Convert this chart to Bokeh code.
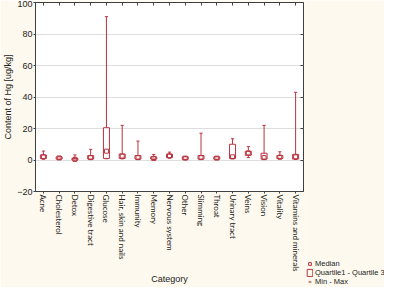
import math
from bokeh.plotting import figure
from bokeh.layouts import row
from bokeh.models import (ColumnDataSource, FactorRange, Range1d, LinearAxis,
                          CategoricalAxis, Legend, LegendItem, FixedTicker)
from bokeh.transform import dodge
from bokeh.embed import file_html
from bokeh.resources import INLINE

categories = ["Acne", "Cholesterol", "Detox", "Digestive tract", "Glucose",
              "Hair, skin and nails", "Immunity", "Memory", "Nervous system",
              "Other", "Slimming", "Throat", "Urinary tract", "Veins", "Vision",
              "Vitality", "Vitamins and minerals"]
mins    = [0.5, 0.4, 0.0, 0.4, 0.8, 0.7, 0.4, 0.3, 1.2, 0.2, 0.4, 0.3, 0.8, 1.5, 0.4, 0.7, 0.4]
q1      = [1.0, 0.6, 0.0, 0.6, 1.0, 1.0, 0.6, 0.6, 1.5, 0.4, 0.6, 0.5, 1.0, 3.0, 0.6, 1.0, 0.6]
medians = [2.0, 1.3, 0.4, 1.5, 5.6, 2.5, 1.5, 1.0, 2.6, 1.2, 1.5, 1.2, 2.0, 4.5, 1.5, 1.8, 2.0]
q3      = [3.2, 2.0, 1.0, 2.8, 20.5, 3.8, 2.8, 2.0, 3.7, 2.0, 2.8, 2.0, 10.0, 5.5, 4.3, 2.8, 3.6]
maxs    = [5.7, 2.0, 3.2, 6.8, 91.0, 22.0, 12.0, 3.5, 5.0, 2.0, 17.0, 2.0, 13.5, 8.5, 22.0, 5.2, 43.0]
y_ticks = [-20, 0, 20, 40, 60, 80, 100]
legend_labels = ["Median", "Quartile1 - Quartile 3", "Min - Max"]

RED = "#b8333f"
BG = "#fdf9ee"
AX = "#404040"
TXT = "#222222"

src = ColumnDataSource(dict(cat=categories, lo=mins, q1=q1, med=medians, q3=q3, hi=maxs))

p = figure(x_range=FactorRange(*categories), y_range=Range1d(-20, 100),
           width=305, height=287, output_backend="svg", toolbar_location=None,
           min_border_left=0, min_border_right=2, min_border_top=2, min_border_bottom=0)
p.frame_align = False
p.background_fill_color = "white"
p.border_fill_color = BG
p.outline_line_color = AX
p.outline_line_width = 1

# whiskers
p.segment(x0="cat", x1="cat", y0="q3", y1="hi", source=src, line_color=RED, line_width=1)
p.segment(x0="cat", x1="cat", y0="lo", y1="q1", source=src, line_color=RED, line_width=1)
p.segment(x0=dodge("cat", -0.1, range=p.x_range), x1=dodge("cat", 0.1, range=p.x_range),
          y0="hi", y1="hi", source=src, line_color=RED, line_width=1)
p.segment(x0=dodge("cat", -0.1, range=p.x_range), x1=dodge("cat", 0.1, range=p.x_range),
          y0="lo", y1="lo", source=src, line_color=RED, line_width=1)
# boxes
p.vbar(x="cat", width=0.38, bottom="q1", top="q3", source=src,
       fill_color="white", line_color=RED, line_width=1)
# medians
p.scatter(x="cat", y="med", source=src, marker="square", size=4,
          fill_color=None, line_color=RED, line_width=1)

# axes styling
for ax in (p.xaxis[0], p.yaxis[0]):
    ax.axis_line_color = AX
    ax.major_tick_line_color = AX
    ax.minor_tick_line_color = None
    ax.axis_label_text_font = "Liberation Sans"
    ax.axis_label_text_font_style = "normal"
    ax.axis_label_text_font_size = "9px"
    ax.axis_label_text_color = TXT

p.yaxis.ticker = FixedTicker(ticks=y_ticks)
p.yaxis.axis_label = "Content of Hg [ug/kg]"
p.yaxis.major_label_text_font = "Liberation Sans"
p.yaxis.major_label_text_font_size = "9px"
p.yaxis.major_label_text_color = TXT
p.yaxis.major_tick_out = 2
p.yaxis.major_tick_in = 0
p.yaxis.major_label_standoff = 1
p.yaxis.axis_label_standoff = 1

p.xaxis.axis_label = "Category"
p.xaxis.major_label_orientation = "vertical"
p.xaxis.major_label_text_font = "Lato"
p.xaxis.major_label_text_font_size = "8px"
p.xaxis.major_label_text_color = TXT
p.xaxis.major_tick_out = 2
p.xaxis.major_tick_in = 0
p.xaxis.major_label_standoff = 1
p.xaxis.axis_label_standoff = 0

# mirrored axes (ticks only)
rax = LinearAxis(ticker=FixedTicker(ticks=y_ticks), major_tick_in=3, major_tick_out=0,
                 minor_tick_line_color=None, axis_line_color=None,
                 major_tick_line_color=AX, major_label_text_color=None,
                 major_label_text_font_size="1px", major_label_standoff=0)
p.add_layout(rax, "right")
tax = CategoricalAxis(major_tick_in=3, major_tick_out=0, axis_line_color=None,
                      major_tick_line_color=AX, major_label_text_color=None,
                      major_label_text_font_size="1px", major_label_standoff=0)
p.add_layout(tax, "above")

p.xgrid.grid_line_color = None
p.ygrid.grid_line_color = "#dedede"
p.ygrid.ticker = FixedTicker(ticks=y_ticks)

# legend panel
q = figure(width=79, height=287, output_backend="svg", toolbar_location=None,
           x_range=Range1d(0, 1), y_range=Range1d(0, 1),
           min_border_left=0, min_border_right=0, min_border_top=0, min_border_bottom=0)
q.frame_align = False
q.axis.visible = False
q.grid.grid_line_color = None
q.outline_line_color = None
q.background_fill_color = BG
q.border_fill_color = BG
# legend keys only: single points placed outside the visible range
r_med = q.scatter(x=[-5], y=[-5], marker="square", size=4, fill_color=None,
                  line_color=RED, line_width=1)
r_box = q.vbar(x=[-5], top=[-4], bottom=[-5], width=0.5, fill_color=None,
               line_color=RED, line_width=1)
r_mm = q.scatter(x=[-5], y=[-5], marker="dash", angle=math.pi / 2, size=10,
                 line_color=RED, line_width=1.2)
legend = Legend(items=[LegendItem(label=legend_labels[0], renderers=[r_med]),
                       LegendItem(label=legend_labels[1], renderers=[r_box]),
                       LegendItem(label=legend_labels[2], renderers=[r_mm])],
                location="bottom_left", border_line_color=None, background_fill_alpha=0,
                label_text_font="Liberation Sans", label_text_font_size="7.5px",
                label_text_color=TXT,
                glyph_width=7, glyph_height=9, label_height=9, spacing=0,
                padding=0, margin=1, label_standoff=2)
q.add_layout(legend)

layout = row(p, q, spacing=0)
open("out.html", "w").write(file_html(layout, INLINE))
